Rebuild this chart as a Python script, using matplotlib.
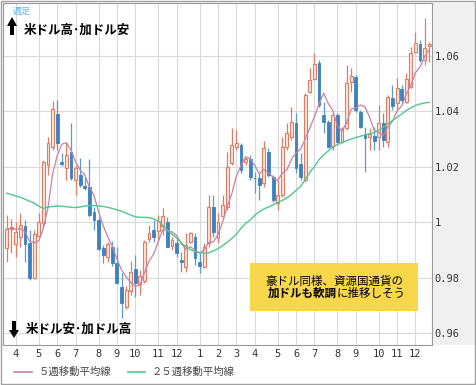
""" USD/CAD weekly candles, 2012/3 - 2013/12
"""
import matplotlib
matplotlib.use('Agg')
import matplotlib.pyplot as plt
import numpy as np
import pandas as pd
from matplotlib.patches import Rectangle, Polygon
from matplotlib.lines import Line2D

plt.rcParams['font.family'] = ['Noto Sans CJK JP', 'DejaVu Sans']

# weekly OHLC
opens = [0.9906, 0.9975, 0.9921, 0.9948, 0.9988, 0.9924, 0.9800, 0.9951, 0.9996, 1.0206,
         1.0272, 1.0389, 1.0217, 1.0195, 1.0254, 1.0152, 1.0170, 1.0131, 1.0128, 1.0038,
         1.0008, 0.9906, 0.9876, 0.9912, 0.9854, 0.9768, 0.9695, 0.9752, 0.9832, 0.9778,
         0.9788, 0.9940, 0.9972, 0.9969, 0.9987, 1.0002, 0.9915, 0.9924, 0.9864, 0.9839,
         0.9930, 0.9947, 0.9858, 0.9840, 0.9924, 1.0056, 0.9943, 1.0023, 1.0056, 1.0213,
         1.0270, 1.0279, 1.0217, 1.0227, 1.0161, 1.0159, 1.0141, 1.0254, 1.0164, 1.0068,
         1.0098, 1.0270, 1.0308, 1.0359, 1.0210, 1.0152, 1.0471, 1.0515, 1.0575, 1.0387,
         1.0363, 1.0275, 1.0387, 1.0290, 1.0339, 1.0507, 1.0523, 1.0399, 1.0315, 1.0307,
         1.0311, 1.0309, 1.0357, 1.0290, 1.0447, 1.0429, 1.0479, 1.0435, 1.0489, 1.0615,
         1.0641, 1.0585, 1.0636]
highs = [1.0026, 1.0012, 1.0001, 1.0034, 1.0008, 0.9972, 0.9972, 1.0032, 1.0225, 1.0308,
         1.0438, 1.0441, 1.0250, 1.0290, 1.0357, 1.0207, 1.0231, 1.0164, 1.0227, 1.0056,
         1.0020, 0.9918, 0.9930, 0.9933, 0.9912, 0.9816, 0.9770, 0.9861, 0.9882, 0.9828,
         0.9936, 0.9990, 1.0008, 1.0026, 1.0052, 1.0018, 0.9948, 0.9943, 0.9893, 0.9960,
         0.9966, 0.9960, 0.9888, 0.9924, 1.0098, 1.0098, 1.0032, 1.0098, 1.0254, 1.0339,
         1.0333, 1.0285, 1.0236, 1.0243, 1.0182, 1.0177, 1.0294, 1.0267, 1.0170, 1.0152,
         1.0308, 1.0357, 1.0417, 1.0393, 1.0250, 1.0465, 1.0555, 1.0609, 1.0585, 1.0435,
         1.0369, 1.0399, 1.0394, 1.0345, 1.0567, 1.0556, 1.0531, 1.0405, 1.0345, 1.0340,
         1.0345, 1.0423, 1.0394, 1.0459, 1.0495, 1.0520, 1.0495, 1.0537, 1.0633, 1.0687,
         1.0657, 1.0735, 1.0651]
lows = [0.9858, 0.9889, 0.9875, 0.9911, 0.9858, 0.9792, 0.9796, 0.9948, 0.9984, 1.0170,
        1.0261, 1.0260, 1.0203, 1.0152, 1.0152, 1.0098, 1.0128, 1.0116, 1.0020, 0.9972,
        0.9900, 0.9852, 0.9857, 0.9843, 0.9778, 0.9655, 0.9688, 0.9738, 0.9732, 0.9738,
        0.9780, 0.9930, 0.9930, 0.9934, 0.9954, 0.9910, 0.9900, 0.9876, 0.9821, 0.9822,
        0.9924, 0.9846, 0.9816, 0.9834, 0.9912, 0.9948, 0.9924, 1.0020, 1.0044, 1.0206,
        1.0261, 1.0177, 1.0206, 1.0152, 1.0105, 1.0080, 1.0128, 1.0164, 1.0074, 1.0044,
        1.0092, 1.0261, 1.0297, 1.0177, 1.0152, 1.0146, 1.0465, 1.0513, 1.0417, 1.0321,
        1.0267, 1.0261, 1.0285, 1.0285, 1.0333, 1.0470, 1.0399, 1.0339, 1.0182, 1.0261,
        1.0261, 1.0261, 1.0272, 1.0272, 1.0405, 1.0405, 1.0429, 1.0429, 1.0483, 1.0609,
        1.0579, 1.0567, 1.0579]
closes = [0.9975, 0.9983, 0.9965, 0.9990, 0.9921, 0.9798, 0.9957, 1.0002, 1.0218, 1.0287,
          1.0407, 1.0285, 1.0210, 1.0243, 1.0159, 1.0195, 1.0134, 1.0123, 1.0026, 1.0008,
          0.9903, 0.9882, 0.9921, 0.9852, 0.9780, 0.9708, 0.9756, 0.9821, 0.9781, 0.9806,
          0.9930, 0.9963, 0.9948, 1.0005, 1.0023, 0.9912, 0.9938, 0.9888, 0.9858, 0.9918,
          0.9960, 0.9870, 0.9843, 0.9912, 1.0056, 0.9966, 1.0001, 1.0062, 1.0200, 1.0279,
          1.0287, 1.0188, 1.0227, 1.0164, 1.0159, 1.0134, 1.0267, 1.0170, 1.0080, 1.0098,
          1.0272, 1.0323, 1.0363, 1.0195, 1.0164, 1.0459, 1.0513, 1.0570, 1.0423, 1.0363,
          1.0272, 1.0387, 1.0290, 1.0335, 1.0501, 1.0527, 1.0405, 1.0345, 1.0303, 1.0318,
          1.0293, 1.0357, 1.0297, 1.0453, 1.0419, 1.0483, 1.0441, 1.0515, 1.0611, 1.0645,
          1.0585, 1.0627, 1.0641]
# 25-week MA as drawn in the picture (needs data from before the window)
ma25 = [1.0105, 1.0100, 1.0095, 1.0090, 1.0083, 1.0076, 1.0069, 1.0058, 1.0050, 1.0055,
        1.0057, 1.0059, 1.0058, 1.0056, 1.0054, 1.0053, 1.0055, 1.0059, 1.0060, 1.0060,
        1.0059, 1.0057, 1.0054, 1.0050, 1.0045, 1.0040, 1.0033, 1.0026, 1.0020, 1.0018,
        1.0018, 1.0017, 1.0012, 1.0005, 0.9988, 0.9972, 0.9957, 0.9944, 0.9926, 0.9911,
        0.9902, 0.9895, 0.9891, 0.9889, 0.9890, 0.9897, 0.9905, 0.9916, 0.9928, 0.9942,
        0.9957, 0.9978, 0.9996, 1.0008, 1.0025, 1.0038, 1.0048, 1.0055, 1.0063, 1.0071,
        1.0079, 1.0088, 1.0100, 1.0115, 1.0129, 1.0155, 1.0180, 1.0200, 1.0226, 1.0242,
        1.0257, 1.0270, 1.0280, 1.0287, 1.0294, 1.0300, 1.0305, 1.0310, 1.0315, 1.0319,
        1.0324, 1.0331, 1.0343, 1.0355, 1.0366, 1.0378, 1.0390, 1.0403, 1.0412, 1.0421,
        1.0426, 1.0430, 1.0432]

yticks = [0.96, 0.98, 1.00, 1.02, 1.04, 1.06]
ytick_labels = ['0.96', '0.98', '1', '1.02', '1.04', '1.06']
legend_labels = ['５週移動平均線', '２５週移動平均線']

o = np.array(opens)
h = np.array(highs)
l = np.array(lows)
c = np.array(closes)
n = len(c)
x = np.arange(n)
ma5 = pd.Series(c).rolling(5, min_periods=1).mean()

dates = pd.date_range('2012-03-19', periods=n, freq='W-MON')
months = dates.month.values
first_wk = [i for i in range(1, n) if months[i] != months[i - 1]]

W, H = 476, 385
fig = plt.figure(figsize=(W / 100, H / 100), dpi=100)


def fx(px):
    return px / W


def fy(py):
    return 1 - py / H


# grey panel behind the price scale
fig.add_artist(Rectangle((fx(432), fy(345)), fx(475) - fx(432), fy(3) - fy(345),
                         transform=fig.transFigure, facecolor='#f0f0f0',
                         edgecolor='none', zorder=-1))

ax = fig.add_axes([fx(3), fy(345), fx(432) - fx(3), fy(3) - fy(345)])

up_edge = '#e27b62'
up_face = '#fbe4db'
dn_col = '#3c82c1'
up = c >= o
ax.vlines(x[up], l[up], h[up], color=up_edge, lw=0.9, zorder=2)
ax.vlines(x[~up], l[~up], h[~up], color='#5b9bd2', lw=0.9, zorder=2)
body = np.maximum(np.abs(c - o), 0.0002)
ax.bar(x[up], body[up], bottom=np.minimum(o, c)[up], width=0.62,
       facecolor=up_face, edgecolor=up_edge, linewidth=0.8, zorder=3)
ax.bar(x[~up], body[~up], bottom=np.minimum(o, c)[~up], width=0.62,
       facecolor=dn_col, edgecolor=dn_col, linewidth=0.6, zorder=3)

ma5_col = '#c880a8'
ma25_col = '#4fc88d'
ax.plot(x, ma5, color=ma5_col, lw=0.9, zorder=4)
ax.plot(x, ma25, color=ma25_col, lw=1.0, zorder=4)

ax.set_xlim(-0.8, 92.6)
ax.set_ylim(0.9558, 1.0790)
ax.yaxis.tick_right()
ax.set_yticks(yticks)
ax.set_yticklabels(ytick_labels, fontfamily='DejaVu Sans Mono', fontsize=7.5, color='#333333')
ax.set_xticks(first_wk)
ax.set_xticklabels([str(months[i]) for i in first_wk], fontfamily='DejaVu Sans Mono',
                   fontsize=7.5, color='#333333')
ax.tick_params(axis='both', length=0)
ax.tick_params(axis='y', pad=2)
ax.tick_params(axis='x', pad=3)
ax.grid(True, color='#dadada', lw=0.8)
ax.set_axisbelow(True)
for sp in ax.spines.values():
    sp.set_color('#999999')
    sp.set_linewidth(0.8)

# top-left labels
fig.text(fx(13), fy(11.5), '週足', fontsize=6.5, color='#5fb2ea', va='center')
up_arrow = [(12, 17), (17, 26), (14, 26), (14, 35), (10, 35), (10, 26), (7, 26)]
dn_arrow = [(12, 321), (16, 321), (16, 330), (19, 330), (14, 338), (9, 330), (12, 330)]
for pts in (up_arrow, dn_arrow):
    fig.add_artist(Polygon([(fx(a), fy(b)) for a, b in pts], closed=True,
                           transform=fig.transFigure, facecolor='black',
                           edgecolor='none', zorder=5))
fig.text(fx(24), fy(30.5), '米ドル高･加ドル安', fontsize=9, fontweight='bold',
         va='center', zorder=5)
fig.text(fx(26), fy(329), '米ドル安･加ドル高', fontsize=9, fontweight='bold',
         va='center', zorder=5)

# yellow note
fig.add_artist(Rectangle((fx(250), fy(310.7)), fx(418.3) - fx(250), fy(262.7) - fy(310.7),
                         transform=fig.transFigure, facecolor='#f8d84a',
                         edgecolor='none', zorder=5))
fig.text(fx(334.5), fy(281), '豪ドル同様、資源国通貨の', fontsize=8.3, ha='center',
         va='center', zorder=6)
fig.text(fx(337), fy(293.5), '加ドルも軟調', fontsize=8.3, fontweight='bold', ha='right',
         va='center', zorder=6)
fig.text(fx(337), fy(293.5), 'に推移しそう', fontsize=8.3, ha='left', va='center', zorder=6)

# legend row
for (x0, x1, tx), col, lab in zip([(14, 32, 39), (128, 145, 152)],
                                  [ma5_col, ma25_col], legend_labels):
    fig.add_artist(Line2D([fx(x0), fx(x1)], [fy(372), fy(372)], transform=fig.transFigure,
                          color=col, lw=1.2))
    fig.text(fx(tx), fy(372), lab, fontsize=7.5, color='#444444', va='center')

# outer frame
fig.add_artist(Rectangle((0.5 / W, 1.5 / H), 1 - 1.5 / W, 1 - 2.5 / H,
                         transform=fig.transFigure, fill=False,
                         edgecolor='#a0a0a0', lw=1, zorder=7))

fig.savefig('out.png', dpi=100)
